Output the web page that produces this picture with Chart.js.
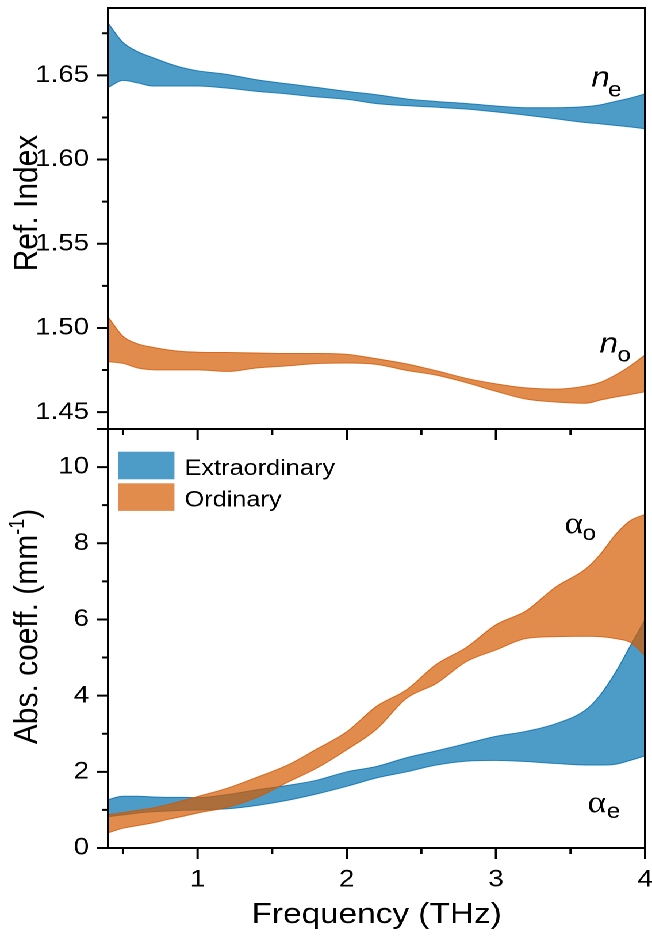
<!DOCTYPE html>
<html>
<head>
<meta charset="utf-8">
<script src="https://cdn.jsdelivr.net/npm/chart.js@4/dist/chart.umd.min.js"></script>
<style>
  html, body { margin: 0; padding: 0; background: #fff; overflow: hidden; }
  /* the figure is laid out 567 px wide and widened to 652 px */
  #figure { position: absolute; left: 0; top: 0; width: 567px; height: 944px;
            transform-origin: 0 0; transform: scaleX(1.15); }
  #figure canvas { position: absolute; left: 0; top: 0; }
</style>
</head>
<body>
<div id="figure">
  <canvas id="refChart" width="567" height="944"></canvas>
  <canvas id="absChart" width="567" height="944"></canvas>
</div>
<script>
// Frequency grid (THz)
const freq = [0.4, 0.5, 0.6, 0.7, 0.8, 0.9, 1.0, 1.2, 1.4, 1.6, 1.8, 2.0,
              2.2, 2.4, 2.6, 2.8, 3.0, 3.2, 3.4, 3.6, 3.7, 3.8, 3.9, 4.0];

// Refractive index bands (upper / lower bound)
const neUpper = [1.6810, 1.6695, 1.6640, 1.6605, 1.6572, 1.6545, 1.6527, 1.6505, 1.6473, 1.6450, 1.6428, 1.6405,
                 1.6385, 1.6360, 1.6345, 1.6333, 1.6318, 1.6308, 1.6308, 1.6314, 1.6325, 1.6345, 1.6365, 1.6390];
const neLower = [1.6428, 1.6470, 1.6455, 1.6437, 1.6437, 1.6437, 1.6437, 1.6424, 1.6405, 1.6390, 1.6372, 1.6358,
                 1.6332, 1.6320, 1.6311, 1.6300, 1.6283, 1.6264, 1.6242, 1.6220, 1.6212, 1.6203, 1.6194, 1.6183];
const noUpper = [1.5065, 1.4950, 1.4905, 1.4885, 1.4870, 1.4860, 1.4856, 1.4854, 1.4851, 1.4848, 1.4848, 1.4843,
                 1.4817, 1.4787, 1.4746, 1.4701, 1.4668, 1.4644, 1.4637, 1.4655, 1.4677, 1.4720, 1.4774, 1.4840];
const noLower = [1.4800, 1.4790, 1.4762, 1.4752, 1.4751, 1.4751, 1.4751, 1.4742, 1.4763, 1.4775, 1.4789, 1.4792,
                 1.4784, 1.4748, 1.4720, 1.4676, 1.4624, 1.4578, 1.4560, 1.4553, 1.4572, 1.4590, 1.4605, 1.4621];

// Absorption coefficient bands (mm^-1)
const aeUpper = [1.27, 1.36, 1.36, 1.34, 1.33, 1.33, 1.32, 1.40, 1.53, 1.64, 1.78, 2.00,
                 2.14, 2.37, 2.55, 2.74, 2.93, 3.06, 3.26, 3.62, 4.02, 4.60, 5.30, 6.00];
const aeLower = [0.82, 0.87, 0.92, 0.95, 0.97, 0.99, 1.00, 1.03, 1.12, 1.25, 1.42, 1.62,
                 1.84, 2.00, 2.18, 2.28, 2.30, 2.27, 2.22, 2.18, 2.18, 2.20, 2.30, 2.42];
const aoUpper = [0.87, 0.93, 0.99, 1.05, 1.14, 1.24, 1.35, 1.57, 1.86, 2.17, 2.60, 3.05,
                 3.72, 4.15, 4.82, 5.26, 5.86, 6.22, 6.85, 7.32, 7.71, 8.22, 8.59, 8.76];
const aoLower = [0.40, 0.52, 0.59, 0.66, 0.75, 0.83, 0.92, 1.07, 1.33, 1.72, 2.10, 2.58,
                 3.12, 3.93, 4.32, 4.89, 5.20, 5.50, 5.55, 5.56, 5.55, 5.50, 5.40, 5.05];

// Tick labels
const freqTicks = [1, 2, 3, 4];
const refTicks = [1.45, 1.50, 1.55, 1.60, 1.65];
const absTicks = [0, 2, 4, 6, 8, 10];

const FONT = "'Liberation Sans', Arial, sans-serif";
const SERIF = "'Liberation Serif', 'Times New Roman', serif";
const BLUE_FILL = 'rgba(0,114,175,0.7)';
const ORANGE_FILL = 'rgba(212,91,0,0.7)';
const BLUE_EDGE = 'rgba(0,104,170,0.8)';
const ORANGE_EDGE = 'rgba(205,84,0,0.8)';

const AREA_LEFT = 94, AREA_RIGHT = 561;
const CANVAS_W = 567, CANVAS_H = 944;
const MID_Y = 429, BOTTOM_Y = 848, TOP_Y = 8;

function points(ys) { return freq.map((f, i) => ({ x: f, y: ys[i] })); }

// an uncertainty band: upper curve filled down to the lower curve
function band(label, upper, lower, fill, edge) {
  const common = { pointRadius: 0, borderWidth: 1, borderColor: edge, cubicInterpolationMode: 'monotone' };
  return [
    Object.assign({ label: label, data: points(upper), fill: '+1', backgroundColor: fill }, common),
    Object.assign({ label: '', data: points(lower), fill: false, backgroundColor: fill }, common)
  ];
}

// midpoints between neighbouring major ticks
function minorOf(major, lo, hi) {
  const step = major[1] - major[0];
  const out = [];
  for (let v = major[0] - step / 2; v <= hi + 1e-9; v += step) if (v >= lo - 1e-9) out.push(v);
  return out;
}

// keep the plot area exactly where the layout padding puts it
function noOverflow(s) { s.paddingTop = 0; s.paddingBottom = 0; s.paddingLeft = 0; s.paddingRight = 0; }

const FRAME = { display: true, color: '#000', width: 2 };

// a label-less axis that only contributes one side of the frame
function frameAxis(position, min, max, axis) {
  const horizontal = position === 'top' || position === 'bottom';
  return {
    type: 'linear', position: position, axis: axis, min: min, max: max, z: 2,
    afterFit: s => { if (horizontal) s.height = 0; else s.width = 0; noOverflow(s); },
    border: FRAME,
    grid: { drawOnChartArea: false, drawTicks: false },
    ticks: { display: false }
  };
}

// closed frame plus outward tick marks, placed through the scales
function decor(yMajor, yMinor, extraLeft) {
  return {
    id: 'decor',
    afterDraw(chart) {
      const { ctx, chartArea: a } = chart;
      const xs = chart.scales.x, ys = chart.scales.y;
      const L = xs.getPixelForValue(xs.min), B = ys.getPixelForValue(ys.min);
      ctx.save();
      ctx.strokeStyle = '#000';
      ctx.lineWidth = 2;
      ctx.strokeRect(a.left, a.top, a.right - a.left, a.bottom - a.top);
      ctx.beginPath();
      yMajor.forEach(v => { const y = ys.getPixelForValue(v); ctx.moveTo(L, y); ctx.lineTo(L - 9.6, y); });
      yMinor.forEach(v => { const y = ys.getPixelForValue(v); ctx.moveTo(L, y); ctx.lineTo(L - 5.2, y); });
      extraLeft.forEach(v => { const y = ys.getPixelForValue(v); ctx.moveTo(L, y); ctx.lineTo(L - 9.6, y); });
      freqTicks.forEach(v => { const x = xs.getPixelForValue(v); ctx.moveTo(x, B); ctx.lineTo(x, B + 11); });
      minorOf(freqTicks, 0.4, 4).forEach(v => { const x = xs.getPixelForValue(v); ctx.moveTo(x, B); ctx.lineTo(x, B + 6); });
      ctx.stroke();
      ctx.restore();
    }
  };
}

// symbol with a subscript, e.g. n_e or alpha_o
function symbol(ctx, x, y, main, mainFont, sub, dx, dy) {
  ctx.font = mainFont;
  ctx.fillText(main, x, y);
  ctx.font = '21px ' + FONT;
  ctx.fillText(sub, x + dx, y + dy);
}

function yScale(min, max, ticks, fmt) {
  return {
    type: 'linear', position: 'left', min: min, max: max, z: 2,
    afterBuildTicks: s => { s.ticks = ticks.map(v => ({ value: v })); },
    afterFit: s => { s.width = AREA_LEFT; noOverflow(s); },
    border: FRAME,
    grid: { drawOnChartArea: false, drawTicks: false },
    ticks: { color: '#000', padding: 16.5, font: { family: FONT, size: 24 }, callback: fmt }
  };
}

const common = {
  responsive: false, animation: false, devicePixelRatio: 2, events: [],
  plugins: { legend: { display: false }, tooltip: { enabled: false } }
};

// ---- refractive index panel ----
new Chart(document.getElementById('refChart'), {
  type: 'line',
  data: { datasets: [
    ...band('Ordinary', noUpper, noLower, ORANGE_FILL, ORANGE_EDGE),
    ...band('Extraordinary', neUpper, neLower, BLUE_FILL, BLUE_EDGE)
  ] },
  options: Object.assign({}, common, {
    layout: { autoPadding: false, padding: { left: 0, top: TOP_Y, right: CANVAS_W - AREA_RIGHT, bottom: CANVAS_H - MID_Y } },
    scales: {
      x: frameAxis('bottom', 0.4, 4, 'x'),
      xTop: frameAxis('top', 0.4, 4, 'x'),
      y: yScale(1.44, 1.69, refTicks, v => v.toFixed(2)),
      yRight: frameAxis('right', 1.44, 1.69, 'y')
    }
  }),
  plugins: [
    decor(refTicks, minorOf(refTicks, 1.44, 1.69), []),
    {
      id: 'refText',
      afterDatasetsDraw(chart) {
        const { ctx } = chart, xs = chart.scales.x, ys = chart.scales.y;
        ctx.save();
        ctx.fillStyle = '#000';
        ctx.textBaseline = 'alphabetic';
        ctx.textAlign = 'left';
        symbol(ctx, xs.getPixelForValue(3.64), ys.getPixelForValue(1.6435), 'n', 'italic 29px ' + FONT, 'e', 14.6, 10);
        symbol(ctx, xs.getPixelForValue(3.695), ys.getPixelForValue(1.4853), 'n', 'italic 29px ' + FONT, 'o', 15.5, 9);
        // axis title
        ctx.translate(32.5, 203);
        ctx.rotate(-Math.PI / 2);
        ctx.textAlign = 'center';
        ctx.font = '30px ' + FONT;
        ctx.fillText('Ref. Index', 0, 0);
        ctx.restore();
      }
    }
  ]
});

// ---- absorption coefficient panel ----
new Chart(document.getElementById('absChart'), {
  type: 'line',
  data: { datasets: [
    ...band('Ordinary', aoUpper, aoLower, ORANGE_FILL, ORANGE_EDGE),
    ...band('Extraordinary', aeUpper, aeLower, BLUE_FILL, BLUE_EDGE)
  ] },
  options: Object.assign({}, common, {
    layout: { autoPadding: false, padding: { left: 0, top: MID_Y, right: CANVAS_W - AREA_RIGHT, bottom: 0 } },
    scales: {
      x: {
        type: 'linear', position: 'bottom', min: 0.4, max: 4, z: 2,
        afterBuildTicks: s => { s.ticks = freqTicks.map(v => ({ value: v })); },
        afterFit: s => { s.height = CANVAS_H - BOTTOM_Y; noOverflow(s); },
        border: FRAME,
        grid: { drawOnChartArea: false, drawTicks: false },
        ticks: { color: '#000', padding: 17.6, maxRotation: 0, autoSkip: false, font: { family: FONT, size: 24 } },
        title: { display: true, text: 'Frequency (THz)', color: '#000', font: { family: FONT, size: 29 }, padding: { top: 0, bottom: 11.6 } }
      },
      xTop: frameAxis('top', 0.4, 4, 'x'),
      y: yScale(0, 11, absTicks, v => String(v)),
      yRight: frameAxis('right', 0, 11, 'y')
    }
  }),
  plugins: [
    decor(absTicks, minorOf(absTicks, 0, 11), [11]),
    {
      id: 'absText',
      afterDatasetsDraw(chart) {
        const { ctx, chartArea: a } = chart, xs = chart.scales.x, ys = chart.scales.y;
        ctx.save();
        ctx.fillStyle = '#000';
        ctx.textBaseline = 'alphabetic';
        ctx.textAlign = 'left';
        symbol(ctx, xs.getPixelForValue(3.46), ys.getPixelForValue(8.27), '\u03B1', '31px ' + SERIF, 'o', 15.6, 7);
        symbol(ctx, xs.getPixelForValue(3.615), ys.getPixelForValue(0.945), '\u03B1', '31px ' + SERIF, 'e', 16.6, 6);

        // legend, taken from the labelled datasets
        const items = chart.data.datasets.filter(d => d.label).reverse();
        items.forEach((d, i) => {
          const top = a.top + 22.7 + i * 31.6;
          ctx.fillStyle = d.backgroundColor;
          ctx.fillRect(a.left + 8.7, top, 49, 27.6);
          ctx.fillStyle = '#000';
          ctx.font = '22px ' + FONT;
          ctx.fillText(d.label, a.left + 66.5, top + 23.2);
        });

        // axis title with superscript
        ctx.translate(32.5, 626.5);
        ctx.rotate(-Math.PI / 2);
        const main = 'Abs. coeff. (mm', sup = '-1', close = ')';
        ctx.font = '30px ' + FONT; const w1 = ctx.measureText(main).width, w3 = ctx.measureText(close).width;
        ctx.font = '18px ' + FONT; const w2 = ctx.measureText(sup).width;
        let x = -(w1 + w2 + w3) / 2;
        ctx.font = '30px ' + FONT; ctx.fillText(main, x, 0); x += w1;
        ctx.font = '18px ' + FONT; ctx.fillText(sup, x, -12); x += w2;
        ctx.font = '30px ' + FONT; ctx.fillText(close, x, 0);
        ctx.restore();
      }
    }
  ]
});
</script>
</body>
</html>
